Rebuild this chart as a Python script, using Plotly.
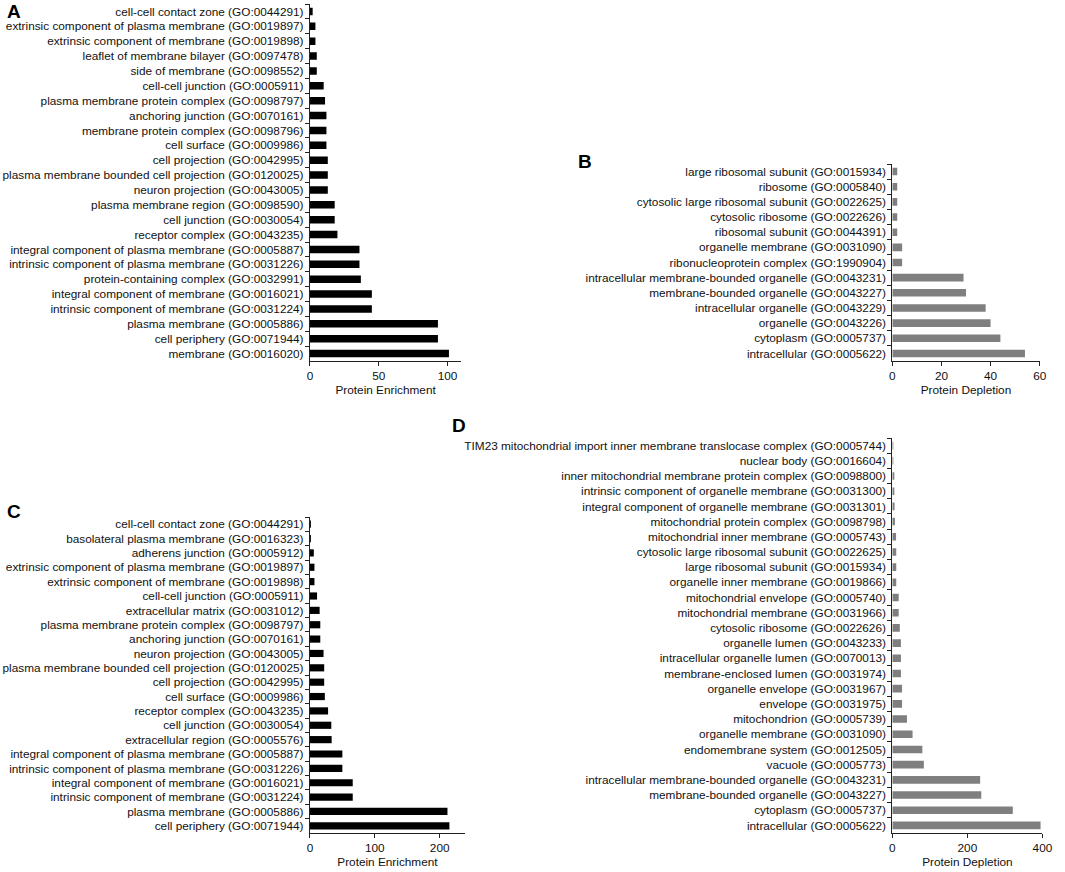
import plotly.graph_objects as go

W, H = 1065, 872

# ---------- Panel A: Protein Enrichment ----------
a_terms = [
    "cell-cell contact zone (GO:0044291)",
    "extrinsic component of plasma membrane (GO:0019897)",
    "extrinsic component of membrane (GO:0019898)",
    "leaflet of membrane bilayer (GO:0097478)",
    "side of membrane (GO:0098552)",
    "cell-cell junction (GO:0005911)",
    "plasma membrane protein complex (GO:0098797)",
    "anchoring junction (GO:0070161)",
    "membrane protein complex (GO:0098796)",
    "cell surface (GO:0009986)",
    "cell projection (GO:0042995)",
    "plasma membrane bounded cell projection (GO:0120025)",
    "neuron projection (GO:0043005)",
    "plasma membrane region (GO:0098590)",
    "cell junction (GO:0030054)",
    "receptor complex (GO:0043235)",
    "integral component of plasma membrane (GO:0005887)",
    "intrinsic component of plasma membrane (GO:0031226)",
    "protein-containing complex (GO:0032991)",
    "integral component of membrane (GO:0016021)",
    "intrinsic component of membrane (GO:0031224)",
    "plasma membrane (GO:0005886)",
    "cell periphery (GO:0071944)",
    "membrane (GO:0016020)",
]
a_values = [2, 4, 4, 5, 5, 10, 11, 12, 12, 12, 13, 13, 13, 18, 18, 20,
            36, 36, 37, 45, 45, 93, 93, 101]

# ---------- Panel B: Protein Depletion ----------
b_terms = [
    "large ribosomal subunit (GO:0015934)",
    "ribosome (GO:0005840)",
    "cytosolic large ribosomal subunit (GO:0022625)",
    "cytosolic ribosome (GO:0022626)",
    "ribosomal subunit (GO:0044391)",
    "organelle membrane (GO:0031090)",
    "ribonucleoprotein complex (GO:1990904)",
    "intracellular membrane-bounded organelle (GO:0043231)",
    "membrane-bounded organelle (GO:0043227)",
    "intracellular organelle (GO:0043229)",
    "organelle (GO:0043226)",
    "cytoplasm (GO:0005737)",
    "intracellular (GO:0005622)",
]
b_values = [2, 2, 2, 2, 2, 4, 4, 29, 30, 38, 40, 44, 54]

# ---------- Panel C: Protein Enrichment ----------
c_terms = [
    "cell-cell contact zone (GO:0044291)",
    "basolateral plasma membrane (GO:0016323)",
    "adherens junction (GO:0005912)",
    "extrinsic component of plasma membrane (GO:0019897)",
    "extrinsic component of membrane (GO:0019898)",
    "cell-cell junction (GO:0005911)",
    "extracellular matrix (GO:0031012)",
    "plasma membrane protein complex (GO:0098797)",
    "anchoring junction (GO:0070161)",
    "neuron projection (GO:0043005)",
    "plasma membrane bounded cell projection (GO:0120025)",
    "cell projection (GO:0042995)",
    "cell surface (GO:0009986)",
    "receptor complex (GO:0043235)",
    "cell junction (GO:0030054)",
    "extracellular region (GO:0005576)",
    "integral component of plasma membrane (GO:0005887)",
    "intrinsic component of plasma membrane (GO:0031226)",
    "integral component of membrane (GO:0016021)",
    "intrinsic component of membrane (GO:0031224)",
    "plasma membrane (GO:0005886)",
    "cell periphery (GO:0071944)",
]
c_values = [1.5, 1.5, 6, 7, 7, 11, 15, 16, 16, 21, 22, 22, 23, 28, 33, 33.5,
            50, 50, 66, 66, 212, 215]

# ---------- Panel D: Protein Depletion ----------
d_terms = [
    "TIM23 mitochondrial import inner membrane translocase complex (GO:0005744)",
    "nuclear body (GO:0016604)",
    "inner mitochondrial membrane protein complex (GO:0098800)",
    "intrinsic component of organelle membrane (GO:0031300)",
    "integral component of organelle membrane (GO:0031301)",
    "mitochondrial protein complex (GO:0098798)",
    "mitochondrial inner membrane (GO:0005743)",
    "cytosolic large ribosomal subunit (GO:0022625)",
    "large ribosomal subunit (GO:0015934)",
    "organelle inner membrane (GO:0019866)",
    "mitochondrial envelope (GO:0005740)",
    "mitochondrial membrane (GO:0031966)",
    "cytosolic ribosome (GO:0022626)",
    "organelle lumen (GO:0043233)",
    "intracellular organelle lumen (GO:0070013)",
    "membrane-enclosed lumen (GO:0031974)",
    "organelle envelope (GO:0031967)",
    "envelope (GO:0031975)",
    "mitochondrion (GO:0005739)",
    "organelle membrane (GO:0031090)",
    "endomembrane system (GO:0012505)",
    "vacuole (GO:0005773)",
    "intracellular membrane-bounded organelle (GO:0043231)",
    "membrane-bounded organelle (GO:0043227)",
    "cytoplasm (GO:0005737)",
    "intracellular (GO:0005622)",
]
d_values = [1.5, 2, 5, 5, 6, 7, 10, 10.5, 10.5, 10.5, 17, 17, 20, 23, 23, 23,
            26, 26, 39, 54, 80, 84, 234, 237, 321, 395]

x_titles = ["Protein Enrichment", "Protein Depletion",
            "Protein Enrichment", "Protein Depletion"]
x_ticks = [[0, 50, 100], [0, 20, 40, 60], [0, 100, 200], [0, 200, 400]]
x_ranges = [[0, 110], [0, 60], [0, 239], [0, 400]]
panel_letters = ["A", "B", "C", "D"]

# ---------- layout geometry (pixels) ----------
def xdom(l, r):
    return [l / W, r / W]

def ydom(top, bottom):
    return [1 - bottom / H, 1 - top / H]

panels = [
    dict(terms=a_terms, vals=a_values, color="#000000",
         xd=xdom(310.7, 464.0), yd=ydom(4, 361)),
    dict(terms=b_terms, vals=b_values, color="#7f7f7f",
         xd=xdom(900.3, 1049.5), yd=ydom(164, 361)),
    dict(terms=c_terms, vals=c_values, color="#000000",
         xd=xdom(310.7, 467.7), yd=ydom(517, 833)),
    dict(terms=d_terms, vals=d_values, color="#7f7f7f",
         xd=xdom(900.3, 1052.3), yd=ydom(438, 833)),
]
letter_pos = [(3, 2), (581, 152), (3, 502), (454, 416)]

FONT = "Liberation Sans, Arial, sans-serif"
TXT = "#111111"
AX = "#222222"
FS = 11.8

fig = go.Figure()
layout = dict(
    width=W, height=H,
    margin=dict(l=0, r=0, t=0, b=0),
    paper_bgcolor="white", plot_bgcolor="white",
    showlegend=False,
    font=dict(family=FONT, size=FS, color=TXT),
    bargap=0.5,
    annotations=[],
)

for i, p in enumerate(panels):
    n = "" if i == 0 else str(i + 1)
    fig.add_trace(go.Bar(
        x=p["vals"], y=p["terms"], orientation="h",
        marker=dict(color=p["color"], line=dict(width=0)),
        xaxis="x" + n, yaxis="y" + n,
        hoverinfo="x+y",
    ))
    layout["xaxis" + n] = dict(
        domain=p["xd"], anchor="y" + n, range=x_ranges[i],
        tickmode="array", tickvals=x_ticks[i],
        ticks="outside", ticklen=4, tickwidth=1, tickcolor=AX,
        showline=True, linecolor=AX, linewidth=1,
        showgrid=False, zeroline=False,
        tickfont=dict(family=FONT, size=FS, color=TXT),
        title=dict(text=x_titles[i], standoff=3,
                   font=dict(family=FONT, size=FS, color=TXT)),
        fixedrange=True,
    )
    layout["yaxis" + n] = dict(
        domain=p["yd"], anchor="x" + n, type="category",
        autorange="reversed",
        ticks="outside", tickson="boundaries", ticklen=4, tickwidth=1,
        tickcolor=AX,
        showline=True, linecolor=AX, linewidth=1,
        showgrid=False, zeroline=False,
        tickfont=dict(family=FONT, size=FS, color=TXT),
        ticklabelstandoff=3,
        fixedrange=True,
    )
    lx, ly = letter_pos[i]
    layout["annotations"].append(dict(
        text="<b>%s</b>" % panel_letters[i], xref="paper", yref="paper",
        x=lx / W, y=1 - ly / H, xanchor="left", yanchor="top",
        height=16, valign="middle", borderpad=0,
        showarrow=False, font=dict(family=FONT, size=19, color="#000000"),
    ))

fig.update_layout(**layout)
fig.write_html("out.html", config={"displayModeBar": False},
               post_script="document.body.style.margin='0';document.body.style.overflow='hidden';")
